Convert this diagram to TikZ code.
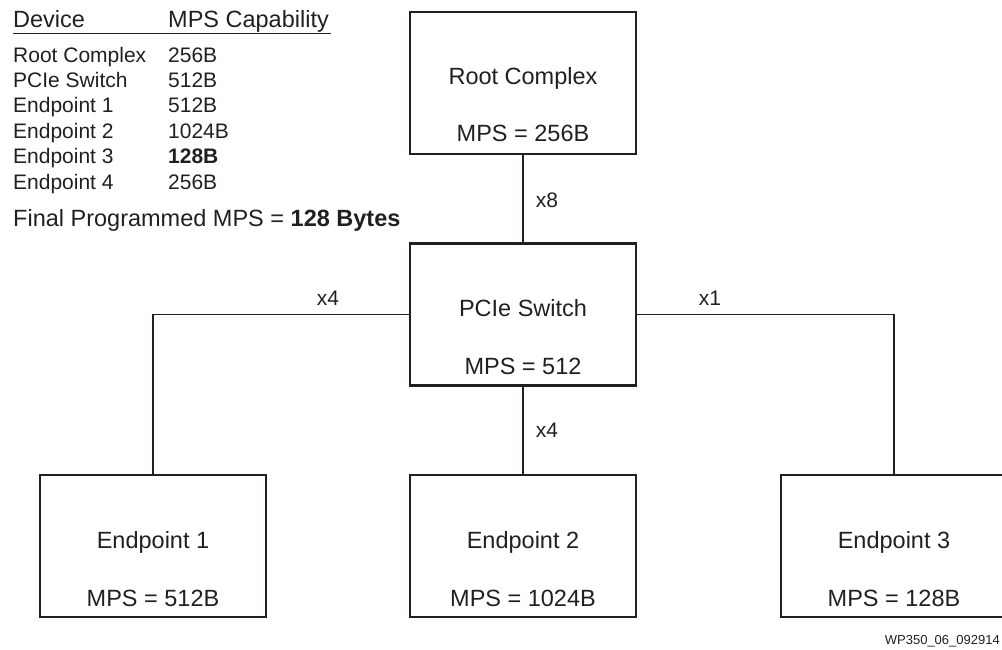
\documentclass[tikz,border=0pt]{standalone}
\usepackage{fontspec}
\setmainfont{Liberation Sans}
\usepackage{tikz}
\usetikzlibrary{positioning, calc}

\definecolor{ink}{HTML}{231F20}
\tikzset{
  devbox/.style={draw=ink, line width=2.2pt, minimum width=226pt, minimum height=142pt, inner sep=0pt},
  devtxt/.style={anchor=base, inner sep=0pt, text=ink, font=\fontsize{23.5}{28}\selectfont},
  tabtxt/.style={anchor=base west, inner sep=0pt, text=ink, font=\fontsize{21}{25}\selectfont},
  headtxt/.style={anchor=base west, inner sep=0pt, text=ink, font=\fontsize{23.5}{28}\selectfont},
  linktxt/.style={inner sep=0pt, text=ink, font=\fontsize{21}{25}\selectfont},
  link/.style={draw=ink, line width=1.2pt}
}

\begin{document}
\begin{tikzpicture}[x=1pt, y=-1pt]
  \useasboundingbox (0,0) rectangle (1002,649);
  \clip (0,0) rectangle (1002,649);

  % capability table
  \node[headtxt] (hdev) at (13,27) {Device};
  \node[headtxt] (hcap) at (168,27) {MPS Capability};
  \draw[ink, line width=1.2pt] (13,33.5) -- (331,33.5);
  \foreach \dev/\cap [count=\i from 0] in {Root Complex/256B, PCIe Switch/512B, Endpoint 1/512B,
      Endpoint 2/1024B, Endpoint 3/\textbf{128B}, Endpoint 4/256B} {
    \node[tabtxt] (dev\i) at (13,62+25.4*\i) {\dev};
    \node[tabtxt] (cap\i) at (168,62+25.4*\i) {\cap};
  }
  \node[headtxt] (final) at (13,226) {Final Programmed MPS = \textbf{128 Bytes}};

  % devices
  \node[devbox] (rc) at (523,83) {};
  \node[devbox] (sw) at (523,314.5) {};
  \node[devbox] (ep1) at (153,546) {};
  \node[devbox] (ep2) at (523,546) {};
  \node[devbox] (ep3) at (894,546) {};

  \node[devtxt] (rcname) at ($(rc.north)+(0,74)$) {Root Complex};
  \node[devtxt] (rcmps) at ($(rc.north)+(0,131)$) {MPS = 256B};
  \node[devtxt] (swname) at ($(sw.north)+(0,74)$) {PCIe Switch};
  \node[devtxt] (swmps) at ($(sw.north)+(0,132)$) {MPS = 512};
  \node[devtxt] (ep1name) at ($(ep1.north)+(0,75)$) {Endpoint 1};
  \node[devtxt] (ep1mps) at ($(ep1.north)+(0,133)$) {MPS = 512B};
  \node[devtxt] (ep2name) at ($(ep2.north)+(0,75)$) {Endpoint 2};
  \node[devtxt] (ep2mps) at ($(ep2.north)+(0,133)$) {MPS = 1024B};
  \node[devtxt] (ep3name) at ($(ep3.north)+(0,75)$) {Endpoint 3};
  \node[devtxt] (ep3mps) at ($(ep3.north)+(0,133)$) {MPS = 128B};

  % links
  \draw[link] (rc.south) -- (sw.north);
  \draw[link] (sw.south) -- (ep2.north);
  \draw[link] (sw.west) -| (ep1.north);
  \draw[link] (sw.east) -| (ep3.north);

  \node[linktxt] (w8) at (547,200) {x8};
  \node[linktxt] (w4a) at (328,298) {x4};
  \node[linktxt] (w1) at (710,298) {x1};
  \node[linktxt] (w4b) at (547,430) {x4};

  \node[anchor=base east, inner sep=0pt, text=ink, font=\fontsize{13}{15}\selectfont] (tag) at (1000,644) {WP350\_06\_092914};
\end{tikzpicture}
\end{document}
